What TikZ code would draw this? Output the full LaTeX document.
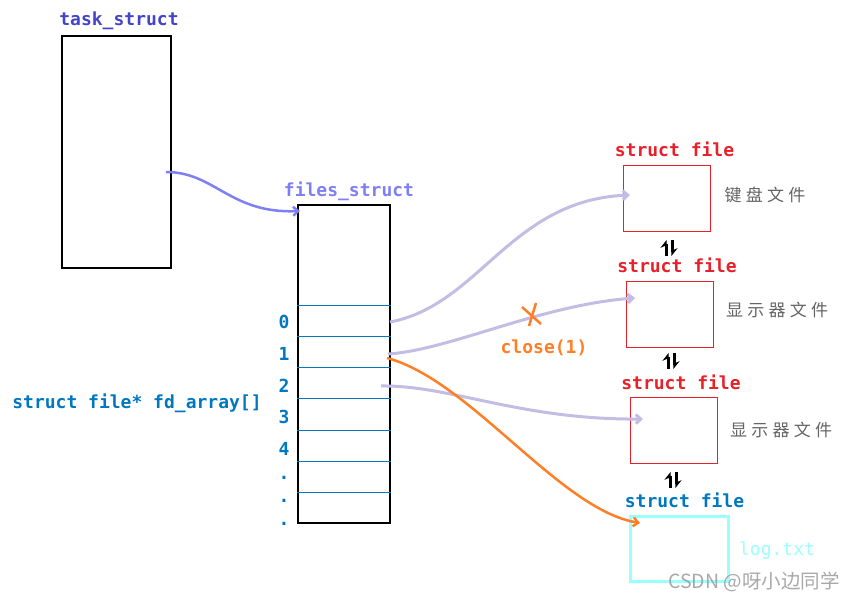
\documentclass[tikz,border=0pt]{standalone}
\usepackage{fontspec}
\setmonofont{DejaVu Sans Mono}
\newfontfamily\cjk[LetterSpace=25]{Noto Sans CJK SC}
\newfontfamily\wmfont{Noto Sans CJK SC}
\usetikzlibrary{arrows.meta,positioning}

\definecolor{taskblue}{HTML}{4444C8}
\definecolor{fsviolet}{HTML}{7F7FF5}
\definecolor{fdblue}{HTML}{0078C0}
\definecolor{filered}{HTML}{E8202A}
\definecolor{linklav}{HTML}{C4BCE2}
\definecolor{closeorg}{HTML}{FF7F27}
\definecolor{logcyan}{HTML}{99FFFF}
\definecolor{cngray}{HTML}{646464}

\begin{document}
\begin{tikzpicture}[x=1pt,y=-1pt,
    every node/.style={inner sep=0pt},
    code/.style={font=\ttfamily\bfseries\fontsize{18}{20}\selectfont, anchor=base},
    cn/.style={font=\cjk\fontsize{17}{19}\selectfont, text=cngray},
    filebox/.style={draw=filered, line width=1.2pt, minimum width=87pt, minimum height=66pt},
    link/.style={linklav, line width=3pt, -{Straight Barb[length=5pt,width=9pt]}},
    swap/.style={line width=3pt, -{Stealth[harpoon,length=7pt,width=11pt]}}]

    \useasboundingbox (0,0) rectangle (854,601);

        % ============================================
        % task_struct
        % ============================================

        \node[draw, line width=1.2pt, minimum width=109pt, minimum height=232pt] (task) at (116.5,152) {};
        \node[code, text=taskblue] (tasklbl) at (119,26) {task\_struct};
        \coordinate (taskptr) at (166,172);

        % ============================================
        % files_struct with fd_array
        % ============================================

        \node[draw, line width=1.2pt, minimum width=92pt, minimum height=318pt] (fs) at (344,364) {};
        \node[code, text=fsviolet] (fslbl) at (349,197) {files\_struct};
        \coordinate (fsin) at (300,211);

        \foreach \y in {306,337,368,399,430,461,492}
            \draw[fdblue, line width=1pt] (fs.west |- 0,\y) -- (fs.east |- 0,\y);

        \foreach \t/\y in {0/329,1/361,2/393,3/424,4/455,./479,./502,./525}
            \node[code, text=fdblue] at (284,\y) {\t};

        \node[code, text=fdblue] (fdarr) at (137,409) {struct file* fd\_array[]};

        % slot ends
        \coordinate (slot0) at (390,322);
        \coordinate (slot1) at (388,354);
        \coordinate (slot1b) at (387,358);
        \coordinate (slot2) at (381,386);

        % ============================================
        % struct file objects
        % ============================================

        \node[filebox] (file1) at (666.8,198.2) {};
        \node[filebox] (file2) at (669.8,314.2) {};
        \node[filebox] (file3) at (673.8,430.3) {};
        \node[draw=logcyan, line width=3pt, minimum width=98pt, minimum height=65pt] (file4) at (679.5,549.2) {};

        \node[code, text=filered] at (674.5,157) {struct file};
        \node[code, text=filered] at (677,273) {struct file};
        \node[code, text=filered] at (681,389) {struct file};
        \node[code, text=fdblue] at (684.5,507) {struct file};

        \node[cn] (kbd) at (765,195) {键盘文件};
        \node[cn] (scr1) at (777,310) {显示器文件};
        \node[cn] (scr2) at (781,430) {显示器文件};
        \node[code, text=logcyan, font=\ttfamily\fontsize{18}{20}\selectfont] (logtxt) at (777,555) {log.txt};

        % swap marks between the files
        \foreach \x/\y in {669/248,671/361,673/480}{
            \draw[swap] (\x-3,\y+8) -- (\x-3,\y-8);
            \draw[swap] (\x+3,\y-8) -- (\x+3,\y+8);
        }

        % ============================================
        % Pointers
        % ============================================

        \draw[fsviolet, line width=2.5pt, -{Straight Barb[length=5pt,width=9pt]}]
            (taskptr) .. controls (215,172) and (230,214) .. (fsin);

        \draw[link] (slot0) .. controls (480,305) and (510,200) .. (630,195);
        \draw[link] (slot1) .. controls (450,350) and (540,305) .. (635,298);
        \draw[link] (slot2) .. controls (450,385) and (520,420) .. (643,419);

        \draw[closeorg, line width=2.5pt, -{Straight Barb[length=5pt,width=9pt]}]
            (slot1b) .. controls (470,380) and (560,510) .. (640,523);

        % close(1) mark
        \coordinate (xmark) at (531,315);
        \draw[closeorg, line width=2.5pt] ([shift={(-2,11)}]xmark) -- ([shift={(5,-12)}]xmark);
        \draw[closeorg, line width=2.5pt] ([shift={(-9,-8)}]xmark) -- ([shift={(10,9)}]xmark);
        \node[code, text=closeorg] (closelbl) at (544,354) {close(1)};

        % watermark
        \node[font=\wmfont\fontsize{19.5}{21}\selectfont, text=gray!75, opacity=0.9] (wm) at (754,582) {CSDN @呀小边同学};

\end{tikzpicture}
\end{document}
